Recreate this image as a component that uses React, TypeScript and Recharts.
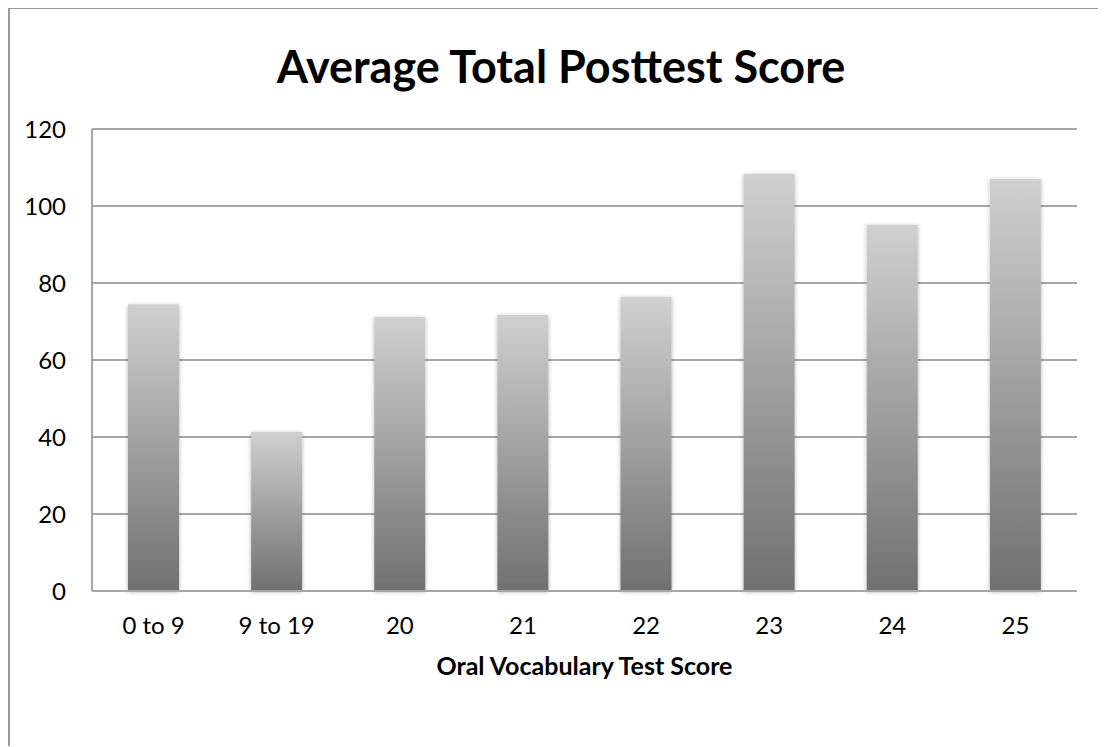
import { BarChart, Bar, XAxis, YAxis, CartesianGrid } from 'recharts';

const categories = ['0 to 9', '9 to 19', '20', '21', '22', '23', '24', '25'];
const posttestScores = [74.5, 41.3, 71.2, 71.7, 76.4, 108.3, 95.1, 107.0];
const yTicks = [0, 20, 40, 60, 80, 100, 120];

const chartData = categories.map((c, i) => ({ group: c, score: posttestScores[i] }));

const FONT = 'Lato, "Open Sans", sans-serif';

export default function App() {
  return (
    <div style={{ position: 'relative', width: 1098, height: 739, borderLeft: '2px solid #9a9a9a', borderTop: '2px solid #9a9a9a', boxSizing: 'border-box', marginTop: -1 }}>
      <div style={{ position: 'absolute', left: 0, top: 30, width: 1102, textAlign: 'center', fontFamily: FONT, fontWeight: 700, fontSize: 45, color: '#000' }}>
        Average Total Posttest Score
      </div>
      <div style={{ position: 'absolute', left: -2, top: -1 }}>
        <BarChart width={1098} height={739} data={chartData}
          margin={{ top: 121, right: 29, left: 24, bottom: 96 }}>
          <defs>
            <linearGradient id="barGrad" x1="0" y1="0" x2="0" y2="1">
              <stop offset="0%" stopColor="#d0d0d0" />
              <stop offset="100%" stopColor="#707070" />
            </linearGradient>
            <filter id="barShadow" x="-20%" y="-5%" width="140%" height="110%">
              <feDropShadow dx="0" dy="1" stdDeviation="2" floodColor="#000" floodOpacity="0.3" />
            </filter>
          </defs>
          <CartesianGrid vertical={false} stroke="#a6a6a6" strokeWidth={2} />
          <XAxis dataKey="group" tickLine={false} axisLine={{ stroke: '#a6a6a6', strokeWidth: 2 }}
            height={60} tickSize={0} tickMargin={26}
            tick={{ fontSize: 24, fill: '#000', fontFamily: FONT }}
            label={{ value: 'Oral Vocabulary Test Score', position: 'bottom', offset: 6,
              style: { fontSize: 25, fontWeight: 700, fill: '#000', fontFamily: FONT } }} />
          <YAxis domain={[0, 120]} ticks={yTicks} tickLine={false} axisLine={{ stroke: '#a6a6a6', strokeWidth: 2 }}
            width={60} tickSize={0} tickMargin={26}
            tick={{ fontSize: 24, fill: '#000', fontFamily: FONT }} />
          <Bar dataKey="score" fill="url(#barGrad)" barSize={51} filter="url(#barShadow)" isAnimationActive={false} />
        </BarChart>
      </div>
    </div>
  );
}
